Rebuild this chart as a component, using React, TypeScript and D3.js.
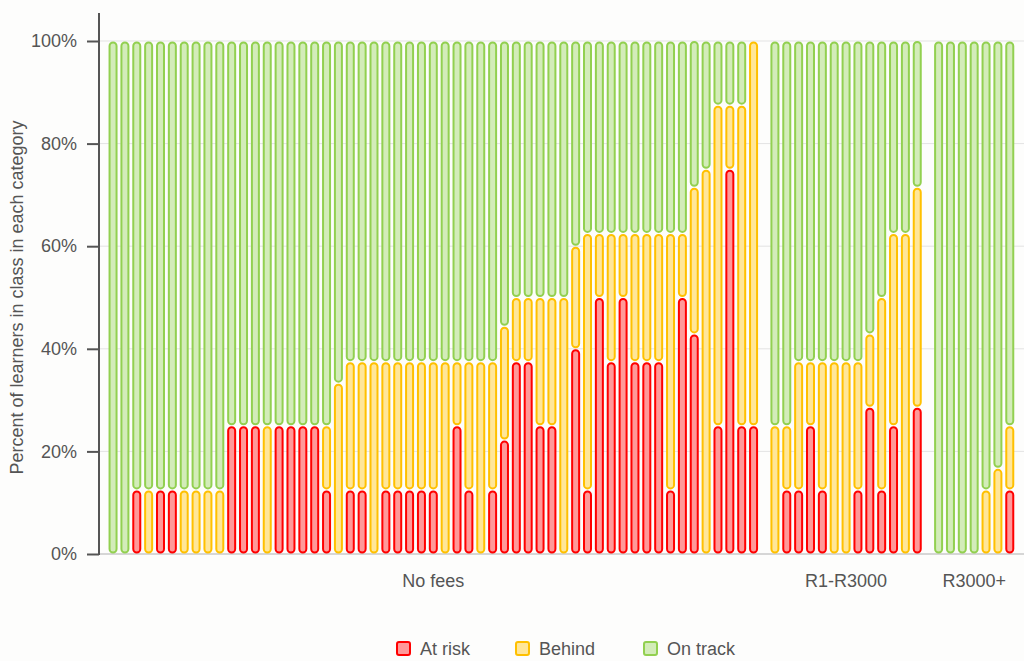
import { useEffect, useRef } from 'react';
import * as d3 from 'd3';

// fee groups and how many classes each holds
const groups = ['No fees', 'R1-R3000', 'R3000+'];
const groupSizes = [55, 13, 7];

// percent of learners per class (one entry per bar, left to right)
const atRisk = [
    0, 0, 12.5, 0, 12.5, 12.5, 0, 0, 0, 0,
    25, 25, 25, 0, 25, 25, 25, 25, 12.5, 0,
    12.5, 12.5, 0, 12.5, 12.5, 12.5, 12.5, 12.5, 0, 25,
    12.5, 0, 12.5, 22.2, 37.5, 37.5, 25, 25, 0, 40,
    12.5, 50, 37.5, 50, 37.5, 37.5, 37.5, 12.5, 50, 42.9,
    0, 25, 75, 25, 25,
    0, 12.5, 12.5, 25, 12.5, 0, 0, 12.5, 28.6, 12.5, 25, 0, 28.6,
    0, 0, 0, 0, 0, 0, 12.5,
];
const behind = [
    0, 0, 0, 12.5, 0, 0, 12.5, 12.5, 12.5, 12.5,
    0, 0, 0, 25, 0, 0, 0, 0, 12.5, 33.3,
    25, 25, 37.5, 25, 25, 25, 25, 25, 37.5, 12.5,
    25, 37.5, 25, 22.2, 12.5, 12.5, 25, 25, 50, 20,
    50, 12.5, 25, 12.5, 25, 25, 25, 50, 12.5, 28.6,
    75, 62.5, 12.5, 62.5, 75,
    25, 12.5, 25, 12.5, 25, 37.5, 37.5, 25, 14.3, 37.5, 37.5, 62.5, 42.9,
    0, 0, 0, 0, 12.5, 16.7, 12.5,
];
const onTrack = [
    100, 100, 87.5, 87.5, 87.5, 87.5, 87.5, 87.5, 87.5, 87.5,
    75, 75, 75, 75, 75, 75, 75, 75, 75, 66.7,
    62.5, 62.5, 62.5, 62.5, 62.5, 62.5, 62.5, 62.5, 62.5, 62.5,
    62.5, 62.5, 62.5, 55.6, 50, 50, 50, 50, 50, 40,
    37.5, 37.5, 37.5, 37.5, 37.5, 37.5, 37.5, 37.5, 37.5, 28.6,
    25, 12.5, 12.5, 12.5, 0,
    75, 75, 62.5, 62.5, 62.5, 62.5, 62.5, 62.5, 57.1, 50, 37.5, 37.5, 28.6,
    100, 100, 100, 100, 87.5, 83.3, 75,
];

const yTicks = [0, 20, 40, 60, 80, 100];

const seriesNames = ['At risk', 'Behind', 'On track'];
const strokes = ['#ff0000', '#ffc000', '#92d050'];
const fills = ['#ff9999', '#ffe699', '#d3ecb9'];

const WIDTH = 1024;
const HEIGHT = 661;
const GROUP_GAP = 0.8; // extra slots between fee groups
const FONT = '"Liberation Sans", Arial, sans-serif';

const App = () => {
    const svgRef = useRef(null);

    useEffect(() => {
        const svg = d3.select(svgRef.current);
        svg.selectAll('*').remove();

        const margin = { top: 41, right: 0, bottom: 107, left: 100 };
        const y = d3.scaleLinear().domain([0, 100]).range([HEIGHT - margin.bottom, margin.top]);

        // slot position of every bar, with a small gap between groups
        const bars = [];
        let k = 0;
        groupSizes.forEach((n, g) => {
            for (let i = 0; i < n; i++) {
                bars.push({ idx: k, group: g, pos: k + g * GROUP_GAP });
                k++;
            }
        });
        const lastPos = bars[bars.length - 1].pos;
        const x = d3.scaleLinear()
            .domain([-1.1, lastPos + 1.2])
            .range([margin.left, WIDTH - margin.right]);

        svg.append('rect').attr('width', WIDTH).attr('height', HEIGHT).attr('fill', '#fdfdfc');

        // grid
        svg.append('g')
            .selectAll('line')
            .data(yTicks)
            .join('line')
            .attr('x1', margin.left)
            .attr('x2', WIDTH)
            .attr('y1', d => y(d))
            .attr('y2', d => y(d))
            .attr('stroke', d => (d === 0 ? '#d6d6d6' : '#e3e3e3'))
            .attr('stroke-width', d => (d === 0 ? 2 : 1));

        // y axis
        const yAxis = d3.axisLeft(y)
            .tickValues(yTicks)
            .tickSize(12)
            .tickSizeOuter(0)
            .tickPadding(10)
            .tickFormat(d => `${d}%`);
        const ax = svg.append('g').attr('transform', `translate(${margin.left - 1},0)`).call(yAxis);
        ax.select('.domain').remove();
        ax.selectAll('.tick line').attr('stroke', '#555').attr('stroke-width', 2);
        ax.selectAll('.tick text')
            .attr('fill', '#555')
            .style('font-family', FONT)
            .style('font-size', '18px');
        ax.append('line')
            .attr('x1', 0).attr('x2', 0)
            .attr('y1', 13).attr('y2', y(0) + 1)
            .attr('stroke', '#555').attr('stroke-width', 2);

        svg.append('text')
            .attr('transform', `translate(23,${(y(0) + y(100)) / 2}) rotate(-90)`)
            .attr('text-anchor', 'middle')
            .attr('fill', '#555')
            .style('font-family', FONT)
            .style('font-size', '18px')
            .text('Percent of learners in class in each category');

        // stacked segments
        const stack = d3.stack()
            .keys([0, 1, 2])
            .value((d, key) => [atRisk, behind, onTrack][key][d.idx]);
        const layers = stack(bars);
        const barW = 7;
        const inset = 1.5;

        layers.forEach((layer, s) => {
            svg.append('g')
                .selectAll('rect')
                .data(layer.filter(d => d[1] - d[0] > 0))
                .join('rect')
                .attr('x', d => x(d.data.pos) - barW / 2)
                .attr('width', barW)
                .attr('y', d => y(d[1]) + inset)
                .attr('height', d => Math.max(0, y(d[0]) - y(d[1]) - inset * 2))
                .attr('rx', barW / 2)
                .attr('fill', fills[s])
                .attr('stroke', strokes[s])
                .attr('stroke-width', 2);
        });

        // group labels
        svg.append('g')
            .selectAll('text')
            .data(groups)
            .join('text')
            .attr('x', (d, g) => {
                const inGroup = bars.filter(b => b.group === g);
                return (x(inGroup[0].pos) + x(inGroup[inGroup.length - 1].pos)) / 2;
            })
            .attr('y', 587)
            .attr('text-anchor', 'middle')
            .attr('fill', '#555')
            .style('font-family', FONT)
            .style('font-size', '18px')
            .text(d => d);

        // legend (kept a touch above the bottom edge)
        const legendX = [397, 516, 644];
        const legend = svg.append('g')
            .selectAll('g')
            .data(seriesNames)
            .join('g')
            .attr('transform', (d, i) => `translate(${legendX[i]},642)`);
        legend.append('rect')
            .attr('width', 13).attr('height', 13).attr('rx', 2)
            .attr('fill', (d, i) => fills[i])
            .attr('stroke', (d, i) => strokes[i])
            .attr('stroke-width', 2);
        legend.append('text')
            .attr('x', 23)
            .attr('y', 13)
            .attr('fill', '#555')
            .style('font-family', FONT)
            .style('font-size', '18px')
            .text(d => d);
    }, []);

    return (
        <svg
            ref={svgRef}
            width={WIDTH}
            height={HEIGHT}
            style={{ position: 'absolute', left: 0, top: 0, display: 'block' }}
        />
    );
};

export default App;
